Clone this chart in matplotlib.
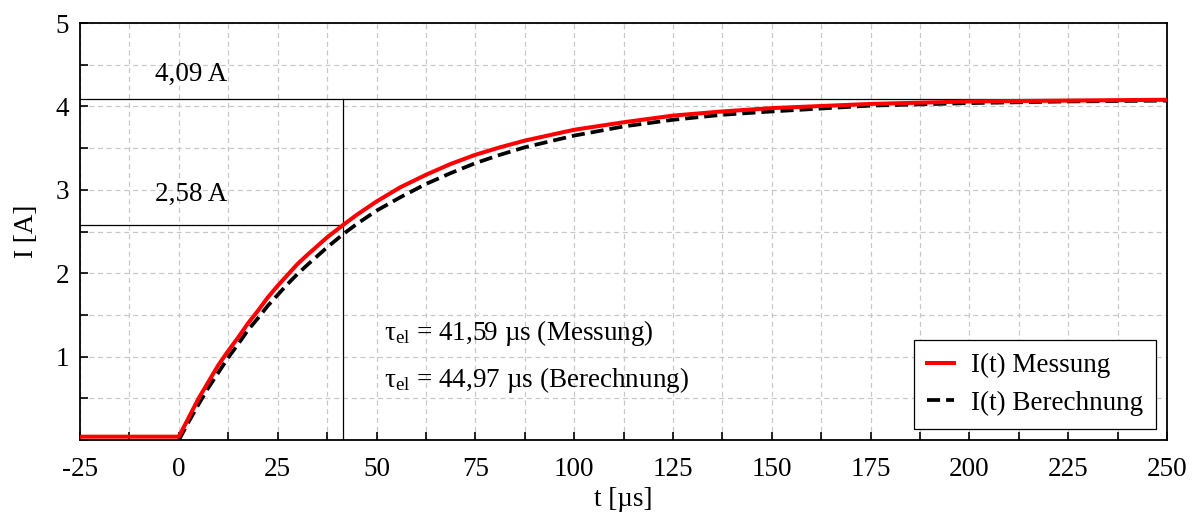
import numpy as np
import matplotlib.pyplot as plt
from matplotlib.ticker import MultipleLocator

plt.rcParams['font.family'] = ['Liberation Serif', 'DejaVu Serif']
plt.rcParams['mathtext.fontset'] = 'custom'
plt.rcParams['mathtext.rm'] = 'Liberation Serif'
plt.rcParams['mathtext.it'] = 'Liberation Serif:italic'
plt.rcParams['axes.unicode_minus'] = False

# Messung
t_mess = [-25, -20, -15, -10, -5, 0, 2.5, 5, 7.5, 10, 12.5, 15, 17.5, 20, 22.5, 25, 27.5, 30, 32.5,
          37.5, 41.59, 45, 50, 56, 62.5, 68.75, 75, 81.25, 87.5, 100, 112.5, 125, 137.5, 150,
          175, 200, 225, 250]
i_mess = [0.04, 0.04, 0.04, 0.04, 0.04, 0.04, 0.27, 0.50, 0.70, 0.90, 1.07, 1.23, 1.40, 1.55,
          1.71, 1.85, 1.98, 2.11, 2.22, 2.43, 2.58, 2.70, 2.86, 3.03, 3.18, 3.31, 3.42, 3.51,
          3.59, 3.72, 3.81, 3.89, 3.94, 3.98, 4.03, 4.06, 4.07, 4.08]

# Berechnung
t_ber = [0, 2.5, 5, 7.5, 10, 12.5, 15, 17.5, 20, 22.5, 25, 27.5, 30, 32.5, 37.5, 41.59, 45, 50,
         56, 62.5, 68.75, 75, 81.25, 87.5, 100, 112.5, 125, 137.5, 150, 175, 200, 225, 250]
i_ber = [0.0, 0.22, 0.43, 0.63, 0.81, 0.99, 1.15, 1.32, 1.46, 1.61, 1.74, 1.87, 1.99, 2.10,
         2.31, 2.47, 2.59, 2.75, 2.91, 3.07, 3.20, 3.32, 3.42, 3.51, 3.65, 3.76, 3.84, 3.90,
         3.94, 4.01, 4.04, 4.06, 4.07]

i_end = 4.09
i_tau = 2.58
tau = 41.59

fs = 19.5

fig = plt.figure(figsize=(11.95, 5.12), dpi=100)
ax = fig.add_axes([0.067, 0.1406, 0.9096, 0.8144])

ax.plot(t_mess, i_mess, color='#ff0000', lw=2.9, label='I(t) Messung', zorder=4)
ax.plot(t_ber, i_ber, color='black', lw=2.7, ls=(0, (3.5, 1.6)), label='I(t) Berechnung', zorder=3)

# Hilfslinien
ax.axhline(i_end, color='black', lw=0.9, zorder=2)
ax.plot([-25, tau], [i_tau, i_tau], color='black', lw=0.9, zorder=2)
ax.plot([tau, tau], [0, i_end], color='black', lw=0.9, zorder=2)

ax.text(-6, 4.38, '4,09 A', fontsize=fs, va='center')
ax.text(-6, 2.94, '2,58 A', fontsize=fs, va='center')
ax.text(52, 1.28, r'$\mathregular{\tau_{el}}$ = 41,59 µs (Messung)', fontsize=fs, va='center')
ax.text(52, 0.72, r'$\mathregular{\tau_{el}}$ = 44,97 µs (Berechnung)', fontsize=fs, va='center')

ax.set_xlim(-25, 250)
ax.set_ylim(0, 5)
ax.xaxis.set_major_locator(MultipleLocator(25))
ax.xaxis.set_minor_locator(MultipleLocator(12.5))
ax.yaxis.set_major_locator(MultipleLocator(1))
ax.yaxis.set_minor_locator(MultipleLocator(0.5))
ax.set_yticks([1, 2, 3, 4, 5])
ax.grid(which='both', color='#c8c8c8', ls=(0, (4, 3)), lw=0.9)
ax.set_axisbelow(True)
ax.tick_params(which='both', direction='in', labelsize=fs, width=1.2, color='black', length=6)
ax.tick_params(axis='x', pad=12)
ax.tick_params(axis='y', pad=8)
for s in ax.spines.values():
    s.set_linewidth(1.3)

ax.set_xlabel('t [µs]', fontsize=fs, labelpad=4)
ax.set_ylabel('I [A]', fontsize=fs, labelpad=12)

leg = ax.legend(loc='lower right', fontsize=fs, fancybox=False, edgecolor='black',
                framealpha=1, handlelength=1.0, handletextpad=0.6, borderaxespad=0.4,
                borderpad=0.5, labelspacing=0.45)
leg.get_frame().set_linewidth(0.9)

fig.savefig('out.png', dpi=100)
